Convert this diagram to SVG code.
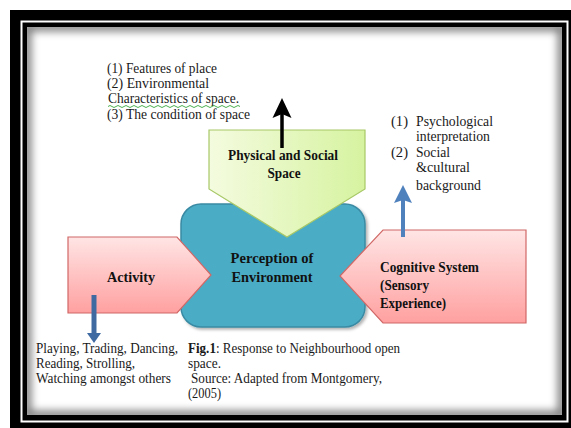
<svg xmlns="http://www.w3.org/2000/svg" width="571" height="428" viewBox="0 0 571 428">
<style>
text{font-family:"Liberation Serif","Times New Roman",Times,serif}
.t{font-size:14px;fill:#1a1a1a}
.b{font-size:15px;font-weight:bold;fill:#111}
.red{stroke:#d06866;stroke-width:1.2;fill:url(#gRed)}
</style>
<defs>
<linearGradient id="gRed" x1="0" y1="0" x2="0" y2="1">
<stop offset="0" stop-color="#ffe5e5"/><stop offset="1" stop-color="#ffa0a0"/>
</linearGradient>
<linearGradient id="gGreen" x1="0" y1="0" x2="1" y2="0">
<stop offset="0" stop-color="#f4fbdf"/><stop offset="1" stop-color="#d6f3a0"/>
</linearGradient>
<clipPath id="inner"><rect x="27" y="27" width="535" height="388"/></clipPath>
<filter id="blur" x="-10%" y="-10%" width="120%" height="120%"><feGaussianBlur stdDeviation="4"/></filter>
<filter id="sh" x="-10%" y="-10%" width="130%" height="130%"><feDropShadow dx="2" dy="2" stdDeviation="1.5" flood-color="#000" flood-opacity="0.3"/></filter>
<marker id="ahBlack" viewBox="0 0 20 20" refX="8" refY="10" markerWidth="20" markerHeight="20" markerUnits="userSpaceOnUse" orient="auto">
<path d="M0,0.5 L20,10 L0,19.5 L4,10 Z" fill="#000"/>
</marker>
<marker id="ahBlueUp" viewBox="0 0 18 18" refX="6" refY="9" markerWidth="18" markerHeight="18" markerUnits="userSpaceOnUse" orient="auto">
<path d="M0,0 L18,9 L0,18 L3,9 Z" fill="#4f81bd"/>
</marker>
<marker id="ahBlueDn" viewBox="0 0 10 14" refX="2" refY="7" markerWidth="10" markerHeight="14" markerUnits="userSpaceOnUse" orient="auto">
<path d="M0,0 L10,7 L0,14 Z" fill="#3e6aa1"/>
</marker>
</defs>

<g id="frame">
<rect x="10" y="10" width="561" height="418" fill="#000"/>
<rect x="21.5" y="21.5" width="546" height="400" fill="none" stroke="#fff" stroke-width="2"/>
<rect x="27" y="27" width="535" height="388" fill="#fff"/>
<g clip-path="url(#inner)">
<rect x="27" y="27" width="535" height="388" fill="none" stroke="#000" stroke-width="8" opacity="0.55" filter="url(#blur)"/>
</g>
</g>

<g id="node-perception">
<rect x="181" y="204" width="184" height="123" rx="20" fill="#4bacc6" stroke="#3a8aa3" stroke-width="1.5" filter="url(#sh)"/>
</g>

<g id="node-physical">
<polygon points="209,130 365,130 365,189 287,237 209,189" fill="url(#gGreen)" stroke="#a7c867" stroke-width="1.2"/>
<text class="b" x="283" y="160" text-anchor="middle" textLength="110" lengthAdjust="spacingAndGlyphs">Physical and Social</text>
<text class="b" x="284" y="178" text-anchor="middle" textLength="33" lengthAdjust="spacingAndGlyphs">Space</text>
</g>

<g id="node-activity">
<polygon class="red" points="68,237 177,237 211,275 177,313 68,313"/>
<text class="b" x="131" y="282" text-anchor="middle" textLength="48" lengthAdjust="spacingAndGlyphs">Activity</text>
</g>

<g id="node-cognitive">
<polygon class="red" points="383,230 526,230 526,323 383,323 340,276"/>
<text class="b" x="380" y="272" textLength="99" lengthAdjust="spacingAndGlyphs">Cognitive System</text>
<text class="b" x="380" y="290" textLength="49" lengthAdjust="spacingAndGlyphs">(Sensory</text>
<text class="b" x="380" y="308" textLength="66" lengthAdjust="spacingAndGlyphs">Experience)</text>
</g>

<g id="node-perception-label">
<text class="b" x="272" y="263" text-anchor="middle" textLength="83" lengthAdjust="spacingAndGlyphs">Perception of</text>
<text class="b" x="272" y="282" text-anchor="middle" textLength="81" lengthAdjust="spacingAndGlyphs">Environment</text>
</g>

<g id="connectors">
<line x1="282" y1="148" x2="282" y2="110" stroke="#000" stroke-width="3.5" marker-end="url(#ahBlack)"/>
<line x1="403" y1="237" x2="403" y2="197" stroke="#4f81bd" stroke-width="4" marker-end="url(#ahBlueUp)"/>
<line x1="94" y1="295" x2="94" y2="335" stroke="#3e6aa1" stroke-width="5" marker-end="url(#ahBlueDn)"/>
</g>

<g id="note-physical">
<text class="t" x="107" y="73" textLength="110" lengthAdjust="spacingAndGlyphs">(1) Features of place</text>
<text class="t" x="107" y="88" textLength="102" lengthAdjust="spacingAndGlyphs">(2) Environmental</text>
<text class="t" x="108" y="103" textLength="131" lengthAdjust="spacingAndGlyphs">Characteristics of space.</text>
<path d="M108,106.5 q2,-2 4,0 t4,0 t4,0 t4,0 t4,0 t4,0 t4,0 t4,0 t4,0 t4,0 t4,0 t4,0 t4,0 t4,0 t4,0 t4,0 t4,0 t4,0 t4,0 t4,0 t4,0 t4,0 t4,0 t4,0 t4,0 t4,0 t4,0 t4,0 t4,0 t4,0 t4,0 t4,0 t4,0" fill="none" stroke="#4caf50" stroke-width="1"/>
<text class="t" x="107" y="119" textLength="143" lengthAdjust="spacingAndGlyphs">(3) The condition of space</text>
</g>

<g id="note-cognitive">
<text class="t" x="391" y="126" textLength="17" lengthAdjust="spacingAndGlyphs">(1)</text>
<text class="t" x="416" y="126" textLength="77" lengthAdjust="spacingAndGlyphs">Psychological</text>
<text class="t" x="416" y="141" textLength="74" lengthAdjust="spacingAndGlyphs">interpretation</text>
<text class="t" x="391" y="157" textLength="17" lengthAdjust="spacingAndGlyphs">(2)</text>
<text class="t" x="416" y="157" textLength="34" lengthAdjust="spacingAndGlyphs">Social</text>
<text class="t" x="416" y="172" textLength="54" lengthAdjust="spacingAndGlyphs">&amp;cultural</text>
<text class="t" x="416" y="190" textLength="65" lengthAdjust="spacingAndGlyphs">background</text>
</g>

<g id="note-activity">
<text class="t" x="36" y="353" textLength="142" lengthAdjust="spacingAndGlyphs">Playing, Trading, Dancing,</text>
<text class="t" x="36" y="368" textLength="99" lengthAdjust="spacingAndGlyphs">Reading, Strolling,</text>
<text class="t" x="36" y="383" textLength="135" lengthAdjust="spacingAndGlyphs">Watching amongst others</text>
</g>

<g id="caption">
<text class="t" x="188" y="353" textLength="212" lengthAdjust="spacingAndGlyphs"><tspan font-weight="bold">Fig.1</tspan>: Response to Neighbourhood open</text>
<text class="t" x="188" y="368" textLength="33" lengthAdjust="spacingAndGlyphs">space.</text>
<text class="t" x="191" y="383" textLength="191" lengthAdjust="spacingAndGlyphs">Source: Adapted from Montgomery,</text>
<text class="t" x="188" y="398" textLength="33" lengthAdjust="spacingAndGlyphs">(2005)</text>
</g>
</svg>
